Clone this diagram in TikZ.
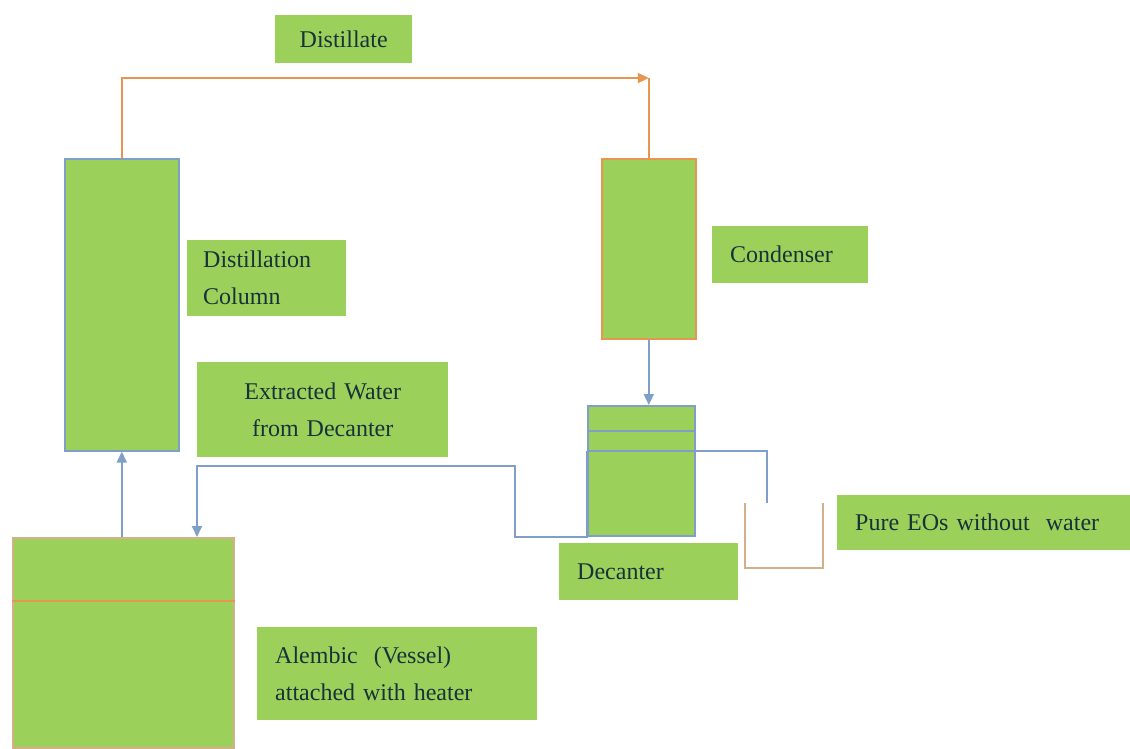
\documentclass[tikz,border=0pt]{standalone}
\usepackage{fontspec}
\setmainfont{Liberation Serif}
\usetikzlibrary{arrows.meta,calc}
\definecolor{fillg}{HTML}{9BD15B}
\definecolor{txt}{HTML}{17333A}
\definecolor{bl}{HTML}{7F9FC6}
\definecolor{orl}{HTML}{E8964F}
\definecolor{tanc}{HTML}{D4B088}
\begin{document}
\begin{tikzpicture}[x=1pt,y=-1pt,
  lbl/.style={fill=fillg, draw=none, text=txt, font=\fontsize{24}{37}\selectfont, anchor=north west, inner ysep=0pt},
  unit/.style={fill=fillg, line width=1.6pt, anchor=north west, inner sep=0pt},
  pipe/.style={line width=1.8pt},
  arr/.style={-{Triangle[length=11pt,width=10pt]}}
]
\useasboundingbox[fill=white] (0,0) rectangle (1130,749);

% process units
\node[unit, draw=bl, minimum width=114, minimum height=292] (col) at (64,158) {};
\node[unit, draw=orl, minimum width=94, minimum height=180] (cond) at (601,158) {};
\node[unit, draw=bl, minimum width=107, minimum height=130] (dec) at (587,405) {};
\node[unit, draw=tanc, minimum width=221, minimum height=210] (alem) at (12,537) {};

% labels
\node[lbl, inner xsep=0pt, text width=137, align=center, minimum height=48] (lDist) at (275,15) {Distillate};
\node[lbl, inner xsep=16pt, text width=127, align=left, minimum height=76] (lCol) at (187,240) {Distillation\\Column};
\node[lbl, inner xsep=18pt, text width=120, align=left, minimum height=57] (lCond) at (712,226) {Condenser};
\node[lbl, inner xsep=0pt, text width=251, align=center, minimum height=95] (lWater) at (197,362) {Extracted Water\\from Decanter};
\node[lbl, inner xsep=18pt, text width=143, align=left, minimum height=57] (lDec) at (559,543) {Decanter};
\node[lbl, inner xsep=18pt, text width=257, align=left, minimum height=55] (lPure) at (837,495) {Pure EOs without\ \ water};
\node[lbl, inner xsep=18pt, text width=244, align=left, minimum height=93] (lAlem) at (257,627) {Alembic\ \ (Vessel)\\attached\ with\ heater};

% inner lines
\draw[bl, pipe] ($(dec.north west)+(0,26)$) -- ($(dec.north east)+(0,26)$);
\draw[orl, pipe] ($(alem.north west)+(0,64)$) -- ($(alem.north east)+(0,64)$);

% coordinates
\coordinate (topc) at ($(cond.north)+(0,-80)$);
\coordinate (w1) at (515,466);
\coordinate (win) at (197,537);
\coordinate (out) at (767,503);
\coordinate (u1) at (745,503);
\coordinate (u2) at (823,503);
\coordinate (dl) at ($(dec.north west)+(0,46)$);

% connectors
\draw[orl, pipe, arr] (col.north) |- (topc);
\draw[orl, pipe] (topc) -- (cond.north);
\draw[bl, pipe, arr] (cond.south) -- (cond.south |- dec.north);
\draw[bl, pipe, arr] (col.south |- alem.north) -- (col.south);
\draw[bl, pipe, arr] (dl) -- (dec.south west) -| (w1) -| (win);
\draw[bl, pipe] (dl) -| (out);
\draw[tanc, pipe] (u1) |- (823,568) -- (u2);
\end{tikzpicture}
\end{document}
